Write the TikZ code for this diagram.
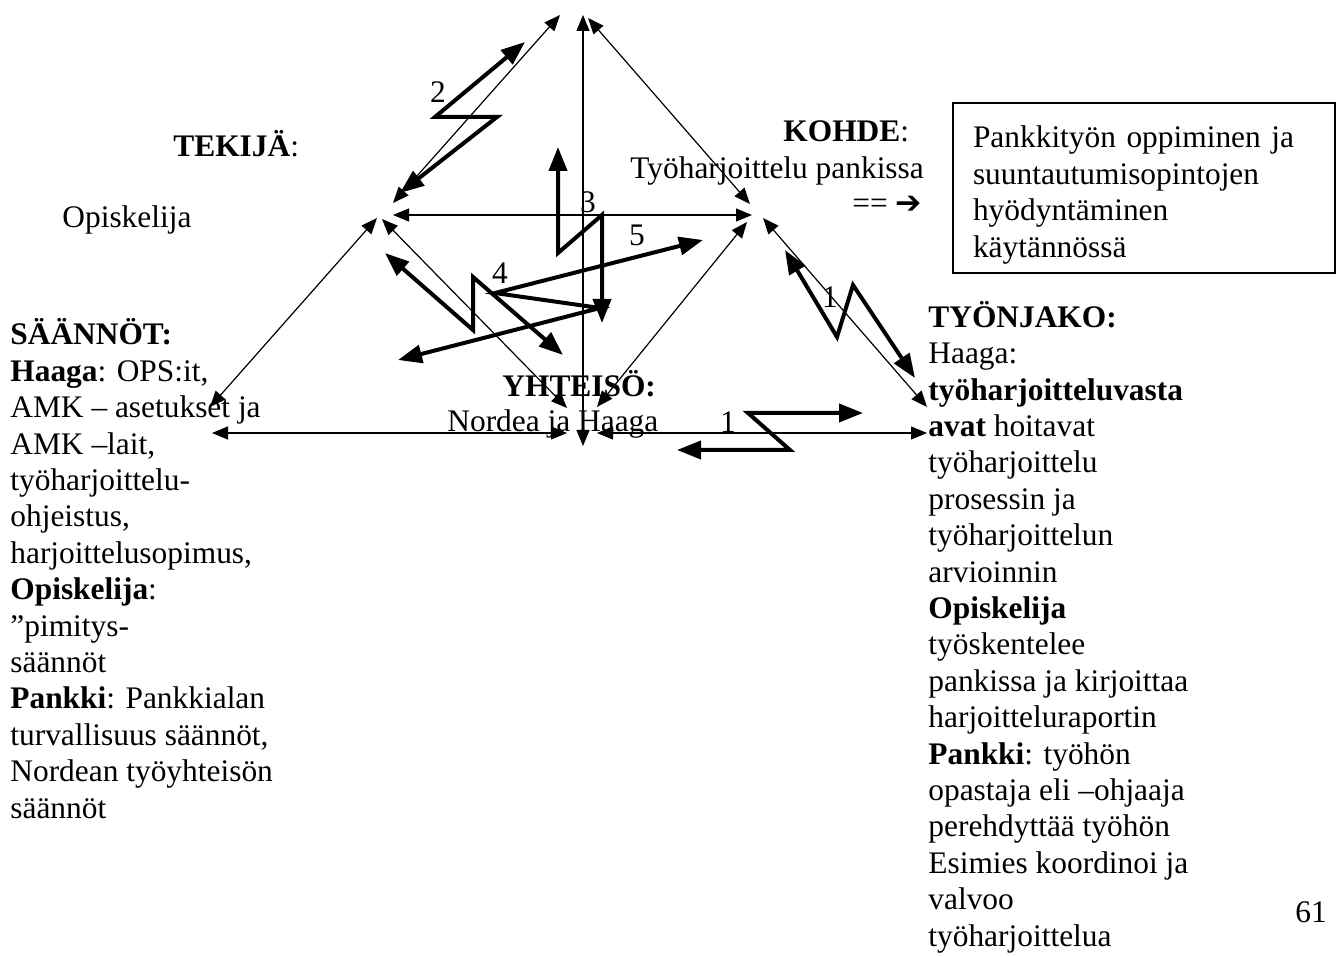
\documentclass[tikz,border=0pt]{standalone}
\usepackage{fontspec}
\setmainfont{Liberation Serif}
\newfontfamily\dejavu{DejaVu Sans}
\usetikzlibrary{arrows.meta}
\tikzset{
  txt/.style={inner sep=0pt, anchor=base west, align=left, font=\fontsize{15.7}{18.2}\selectfont},
  num/.style={inner sep=0pt, font=\fontsize{15.7}{18.2}\selectfont},
  link/.style={line width=0.6pt, {Triangle[length=8pt,width=6.5pt]}-{Triangle[length=8pt,width=6.5pt]}},
  bolt/.style={line width=2pt, {Triangle[length=12pt,width=9pt]}-{Triangle[length=12pt,width=9pt]}}
}
\begin{document}
\begin{tikzpicture}[x=0.5pt,y=-0.5pt]
\useasboundingbox (0,0) rectangle (1340,957);
\node[txt] (tekija) at (173,157) {\textbf{TEKIJÄ}:};
\node[txt] (opiskelija) at (62,228) {Opiskelija};
\node[txt] (kohde) at (783,142) {\textbf{KOHDE}:};
\node[txt] (kohdetxt) at (630,179) {Työharjoittelu pankissa};
\node[txt] (nuoli) at (852,214) {==~{\dejavu ➔}};
\node[draw, line width=0.6pt, minimum width=191pt, minimum height=85pt, text width=171pt, inner xsep=10pt, align=left, font=\fontsize{15.7}{18.2}\selectfont] (tulos) at (1144,188) {\rule{0pt}{17.8pt}Pankkityön oppiminen ja\\suuntautumisopintojen\\hyödyntäminen\\käytännössä};
\node[txt] (yhteiso) at (502,397) {\textbf{YHTEISÖ:}};
\node[txt] (yhteisotxt) at (447,432) {Nordea ja Haaga};
\node[txt] (saannot) at (10,818) {\textbf{SÄÄNNÖT:}\\\textbf{Haaga}: OPS:it,\\AMK – asetukset ja\\AMK –lait,\\työharjoittelu-\\ohjeistus,\\harjoittelusopimus,\\\textbf{Opiskelija}:\\”pimitys-\\säännöt\\\textbf{Pankki}: Pankkialan\\turvallisuus säännöt,\\Nordean työyhteisön\\säännöt};
\node[txt] (tyonjako) at (928,946) {\textbf{TYÖNJAKO:}\\Haaga:\\\textbf{työharjoitteluvasta}\\\textbf{avat} hoitavat\\työharjoittelu\\prosessin ja\\työharjoittelun\\arvioinnin\\\textbf{Opiskelija}\\työskentelee\\pankissa ja kirjoittaa\\harjoitteluraportin\\\textbf{Pankki}: työhön\\opastaja eli –ohjaaja\\perehdyttää työhön\\Esimies koordinoi ja\\valvoo\\työharjoittelua};
\node[txt] (sivu) at (1295,922) {61};
\node[num] (n2) at (438,92) {2};
\node[num] (n3) at (588,202) {3};
\node[num] (n4) at (500,273) {4};
\node[num] (n5) at (637,235) {5};
\node[num] (n1a) at (830,297) {1};
\node[num] (n1b) at (728,422) {1};
\coordinate (topl) at (560,15);
\coordinate (topv) at (583,15);
\coordinate (topr) at (588,18);
\coordinate (subjt) at (393,203);
\coordinate (subjh) at (393,215);
\coordinate (subjr) at (377,218);
\coordinate (subjc) at (382,219);
\coordinate (objt) at (750,204);
\coordinate (objh) at (752,215);
\coordinate (objc) at (747,222);
\coordinate (objd) at (763,218);
\coordinate (rulest) at (210,407);
\coordinate (rulesh) at (212,433);
\coordinate (commv) at (583,446);
\coordinate (comms) at (567,408);
\coordinate (commo) at (597,407);
\coordinate (comml) at (567,433);
\coordinate (commr) at (597,433);
\coordinate (divo) at (927,407);
\coordinate (divh) at (927,433);
\draw[link] (topl) -- (subjt);
\draw[link] (topv) -- (commv);
\draw[link] (topr) -- (objt);
\draw[link] (subjh) -- (objh);
\draw[link] (subjr) -- (rulest);
\draw[link] (subjc) -- (comms);
\draw[link] (objc) -- (commo);
\draw[link] (objd) -- (divo);
\draw[link] (rulesh) -- (comml);
\draw[link] (commr) -- (divh);
\coordinate (b2s) at (400,193);
\coordinate (b2e) at (525,42);
\coordinate (b3s) at (558,147);
\coordinate (b3e) at (602,323);
\coordinate (b4s) at (385,253);
\coordinate (b4e) at (563,355);
\coordinate (b5s) at (398,360);
\coordinate (b5e) at (703,240);
\coordinate (b1as) at (785,250);
\coordinate (b1ae) at (915,378);
\coordinate (b1bs) at (677,450);
\coordinate (b1be) at (863,413);
\draw[bolt] (b2s) -- (497,117) -- (435,117) -- (b2e);
\draw[bolt] (b3s) -- (558,253) -- (602,215) -- (b3e);
\draw[bolt] (b4s) -- (473,330) -- (473,277) -- (b4e);
\draw[bolt] (b5s) -- (600,308) -- (495,293) -- (b5e);
\draw[bolt] (b1as) -- (837,337) -- (853,285) -- (b1ae);
\draw[bolt] (b1bs) -- (790,450) -- (748,413) -- (b1be);
\end{tikzpicture}
\end{document}
